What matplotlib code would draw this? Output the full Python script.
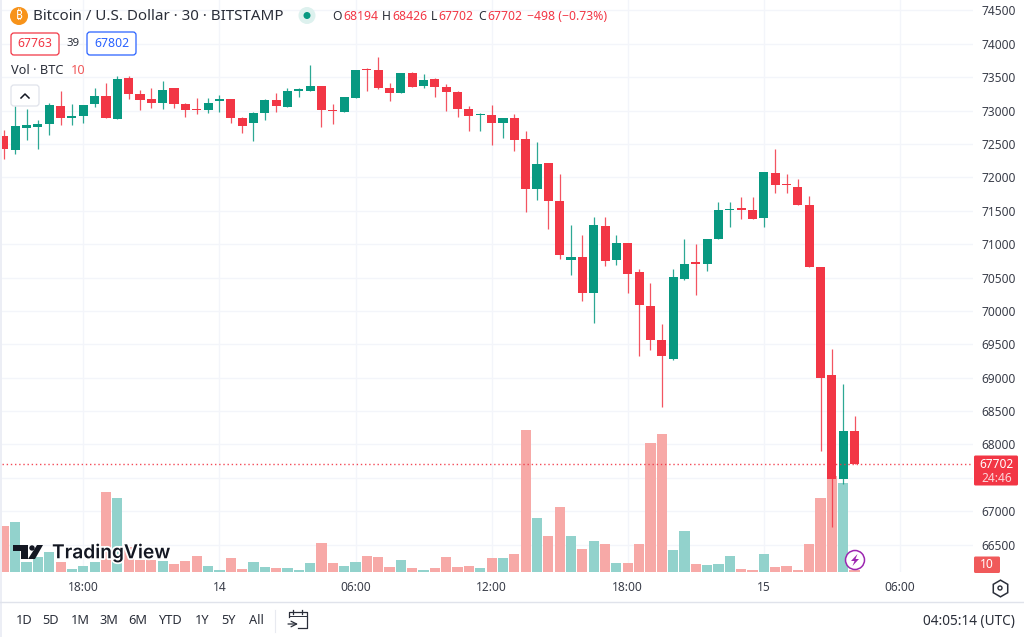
import numpy as np
import matplotlib
matplotlib.use("Agg")
import matplotlib.pyplot as plt
import matplotlib.patheffects as pe
from matplotlib.patches import FancyBboxPatch, Circle, Polygon, Rectangle

plt.rcParams['font.family'] = ['Noto Sans', 'DejaVu Sans']

UP = '#089981'
DOWN = '#F23645'
UP_VOL = '#92D2CC'
DOWN_VOL = '#F7A9A7'
GRID = '#F3F5FA'
TEXT = '#3a3e4a'

# 30 minute candles, index 0 is the 18:00 bar
bar_index = list(range(-7, 69))

opens = [72617, 72407, 72737, 72757, 72797, 73067, 72887, 72917, 73092, 73222,
         72872, 73482, 73247, 73167, 73107, 73332, 73097, 73027, 73007, 73137,
         73167, 72882, 72807, 72962, 73157, 73057, 73287, 73297, 73367, 73012,
         72983, 73183, 73623, 73608, 73333, 73258, 73558, 73363, 73473, 73358,
         73283, 73018, 72938, 72933, 72808, 72888, 72570, 71830, 72210, 71645,
         70765, 70810, 70265, 71275, 70755, 71015, 70585, 70075, 69560, 69275,
         70485, 70725, 70700, 71070, 71515, 71540, 71510, 71390, 72065, 71905,
         71855, 71590, 70660, 69040, 67477, 68194]
highs = [72707, 73067, 73017, 72857, 73107, 73292, 73097, 73087, 73342, 73407,
         73517, 73517, 73307, 73332, 73447, 73342, 73107, 73182, 73182, 73232,
         73167, 72897, 72982, 73167, 73257, 73332, 73332, 73682, 73367, 73092,
         73198, 73608, 73633, 73798, 73418, 73558, 73578, 73548, 73483, 73393,
         73298, 73073, 72958, 73078, 72893, 72943, 72695, 72535, 72210, 72055,
         71285, 71130, 71400, 71400, 71140, 71015, 70620, 70420, 69800, 70630,
         71070, 71000, 71075, 71630, 71630, 71710, 71700, 72075, 72420, 72050,
         71970, 71720, 70660, 69425, 68905, 68426]
lows = [72277, 72357, 72557, 72422, 72632, 72792, 72792, 72817, 73057, 72882,
        72872, 73167, 73007, 73042, 73027, 73042, 72897, 72947, 72967, 72982,
        72817, 72672, 72542, 72857, 72982, 73057, 73207, 73297, 72757, 72797,
        72983, 73183, 73293, 73328, 73148, 73258, 73358, 73343, 73208, 72993,
        72898, 72698, 72698, 72478, 72593, 72393, 71485, 71660, 71220, 70770,
        70535, 70145, 69825, 70675, 70685, 70270, 69325, 69420, 68560, 69260,
        70470, 70235, 70600, 71070, 71260, 71380, 71370, 71250, 71760, 71760,
        71580, 70650, 67906, 66768, 67407, 67702]
closes = [72422, 72767, 72782, 72802, 73077, 72887, 72912, 73087, 73222, 72882,
          73472, 73252, 73157, 73107, 73302, 73092, 73012, 73012, 73117, 73172,
          72887, 72777, 72967, 73157, 73072, 73292, 73317, 73367, 73007, 72992,
          73198, 73608, 73608, 73338, 73258, 73558, 73358, 73453, 73358, 73283,
          73023, 72923, 72948, 72808, 72888, 72563, 71830, 72200, 71645, 70835,
          70805, 70265, 71290, 70745, 71015, 70550, 70085, 69560, 69330, 70505,
          70700, 70705, 71075, 71515, 71530, 71505, 71370, 72075, 71890, 71890,
          71585, 70650, 68995, 67487, 68201, 67702]
volumes = [233, 253, 50, 75, 100, 53, 18, 33, 53, 400,
           370, 125, 62, 62, 57, 42, 57, 80, 30, 12,
           70, 18, 52, 25, 20, 20, 12, 45, 148, 45,
           33, 50, 80, 78, 25, 62, 22, 12, 22, 75,
           27, 33, 22, 72, 70, 92, 712, 270, 182, 325,
           183, 117, 157, 140, 45, 45, 140, 647, 692, 112,
           208, 42, 35, 40, 80, 17, 10, 90, 28, 32,
           10, 142, 372, 483, 445, 10]

price_ticks = list(range(66500, 75000, 500))
hidden_price_tick = 67500  # sits under the last price label
time_ticks = [0, 12, 24, 36, 48, 60, 72]
time_labels = ['18:00', '14', '06:00', '12:00', '18:00', '15', '06:00']
day_labels = ['14', '15']
last_price = 67702
range_buttons = ['1D', '5D', '1M', '3M', '6M', 'YTD', '1Y', '5Y', 'All']
range_x = [24, 51, 80, 109, 138, 170, 202, 229, 256]

opens, highs, lows, closes = map(np.array, (opens, highs, lows, closes))
volumes = np.array(volumes)
bar_index = np.array(bar_index)
falling = closes < opens

fig = plt.figure(figsize=(10.24, 6.37), dpi=100, facecolor='white')
ax = fig.add_axes([2 / 1024, (637 - 572.3) / 637, 971 / 1024, 572.3 / 637])
ax.set_xlim(-7.167, 78.44)
ax.set_ylim(66084, 74657)

# volume sits on the bottom of the pane, 1 BTC is about 3 price units here
vol_scale = 3.0
ax.bar(bar_index, volumes * vol_scale, bottom=66084, width=0.9,
       color=np.where(falling, DOWN_VOL, UP_VOL), zorder=2)

ax.vlines(bar_index, lows, highs, colors=np.where(falling, DOWN, UP), lw=0.9, alpha=0.85, zorder=3)
ax.bar(bar_index, np.abs(closes - opens), bottom=np.minimum(opens, closes), width=0.8,
       color=np.where(falling, DOWN, UP), zorder=4)

ax.axhline(last_price, color=DOWN, lw=1, linestyle=(0, (1, 2)), alpha=0.9, zorder=5)

ax.set_yticks(price_ticks)
ax.set_yticklabels(['' if p == hidden_price_tick else str(p) for p in price_ticks])
ax.set_xticks(time_ticks)
ax.set_xticklabels(time_labels)
ax.yaxis.tick_right()
ax.grid(True, color=GRID, lw=1)
ax.set_axisbelow(True)
ax.tick_params(axis='y', length=0, pad=6, labelsize=8.6, labelcolor=TEXT)
ax.tick_params(axis='x', length=0, pad=6, labelsize=8.6, labelcolor=TEXT)
for lab in ax.get_xticklabels():
    if lab.get_text() in day_labels:
        lab.set_fontweight('bold')
for side in ax.spines:
    ax.spines[side].set_visible(False)

# everything around the chart is placed in screen pixels
ov = fig.add_axes([0, 0, 1, 1], zorder=5)
ov.set_xlim(0, 1024)
ov.set_ylim(637, 0)
ov.axis('off')
ov.patch.set_alpha(0)

ov.add_patch(Rectangle((0, 0), 2, 637, color='#ECEEF5', lw=0))
ov.plot([0, 1024], [601.5, 601.5], color='#E0E3EB', lw=1)
ov.plot([275, 275], [610, 632], color='#E8EAF0', lw=0.8)

# header
ov.add_patch(Circle((19, 16), 9, color='#F7931A', lw=0))
ov.text(19, 16, '₿', color='white', fontsize=8.5, ha='center', va='center',
        family=['Noto Sans', 'Inter', 'Roboto', 'Open Sans', 'Lato', 'Liberation Sans', 'DejaVu Sans'],
        fontweight='bold')
ov.text(33, 16, 'Bitcoin / U.S. Dollar · 30 · BITSTAMP', color='#2a2e39', fontsize=10.9,
        va='center')
ov.add_patch(Circle((307, 15.5), 8.5, color='#DDF1EE', lw=0))
ov.add_patch(Circle((307, 15.5), 3.5, color=UP, lw=0))
for x, s, col in [(332, 'O', '#2a2e39'), (343, '68194', DOWN),
                  (382, 'H', '#2a2e39'), (392, '68426', DOWN),
                  (431, 'L', '#2a2e39'), (438, '67702', DOWN),
                  (478, 'C', '#2a2e39'), (487, '67702', DOWN),
                  (527, '−498 (−0.73%)', DOWN)]:
    ov.text(x, 16, s, color=col, fontsize=8.8, va='center')

ov.add_patch(FancyBboxPatch((12, 34), 46, 20, boxstyle='round,pad=1,rounding_size=3',
                            fc='white', ec=DOWN, lw=0.9))
ov.text(35, 43.5, '67763', color=DOWN, fontsize=8.8, ha='center', va='center')
ov.text(73, 43.5, '39', color='#2a2e39', fontsize=8.2, ha='center', va='center')
ov.add_patch(FancyBboxPatch((88, 33), 47, 21, boxstyle='round,pad=1,rounding_size=3',
                            fc='white', ec='#2962FF', lw=0.9))
ov.text(111.5, 43.5, '67802', color='#2962FF', fontsize=8.8, ha='center', va='center')
ov.text(11, 71, 'Vol · BTC', color='#2a2e39', fontsize=9.2, va='center')
ov.text(71, 71, '10', color='#F0595A', fontsize=9.2, va='center')
ov.add_patch(FancyBboxPatch((12, 86), 26, 19, boxstyle='round,pad=1,rounding_size=3',
                            fc='white', ec='#E0E3EB', lw=0.9))
ov.plot([21, 25, 29], [98, 94, 98], color='#131722', lw=1.1)

# TradingView mark
halo = [pe.withStroke(linewidth=2.5, foreground='white')]
for shape in [Polygon([(13, 545), (28, 545), (28, 559), (21, 559), (21, 551), (13, 551)],
                      color='#131722', lw=0),
              Circle((32, 548), 2.7, color='#131722', lw=0),
              Polygon([(37, 545), (43, 545), (35, 559), (28, 559)], color='#131722', lw=0)]:
    ov.add_patch(shape)
ov.text(52, 553, 'TradingView', color='#131722', fontsize=13.8, family='Inter', fontweight='semibold',
        va='center', path_effects=halo)

# price labels on the right
ov.add_patch(FancyBboxPatch((975, 456.5), 42, 28, boxstyle='round,pad=1,rounding_size=1.5',
                            fc=DOWN, ec='none'))
ov.text(997, 464, '67702', color='white', fontsize=8.6, ha='center', va='center')
ov.text(997, 478, '24:46', color='#FBD5D9', fontsize=8.6, ha='center', va='center')
ov.add_patch(FancyBboxPatch((975, 557.5), 24, 14.5, boxstyle='round,pad=1,rounding_size=1.5',
                            fc='#F0595A', ec='none'))
ov.text(987, 565, '10', color='white', fontsize=8.6, ha='center', va='center')

# lightning badge
ov.add_patch(Circle((855, 560), 9.5, fc='white', ec='#9C27B0', lw=1.1))
ov.add_patch(Polygon([(857.5, 554), (851, 561), (854.5, 561), (852.5, 566), (859, 559), (855.5, 559)],
                     color='#9C27B0', lw=0))

# settings hexagon
ov.plot([1000], [588], marker='h', ms=12, mfc='none', mec='#2a2e39', mew=1.1)
ov.add_patch(Circle((1000, 588), 2, fc='none', ec='#2a2e39', lw=1))

# bottom toolbar
for x, s in zip(range_x, range_buttons):
    ov.text(x, 621, s, color='#2a2e39', fontsize=9.2, ha='center', va='center')
ov.plot([289, 289, 307, 307, 298], [617, 612, 612, 628, 628], color='#2a2e39', lw=0.9)
ov.plot([289, 307], [615.5, 615.5], color='#2a2e39', lw=0.7)
ov.plot([293, 293], [610, 614], color='#2a2e39', lw=0.9)
ov.plot([302, 302], [610, 614], color='#2a2e39', lw=0.9)
ov.annotate('', xy=(298, 624), xytext=(288, 624),
            arrowprops=dict(arrowstyle='->', color='#2a2e39', lw=0.9, shrinkA=0, shrinkB=0))
ov.text(1015, 622, '04:05:14 (UTC)', color='#2a2e39', fontsize=9.8, ha='right', va='center')

fig.savefig('out.png', dpi=100)
